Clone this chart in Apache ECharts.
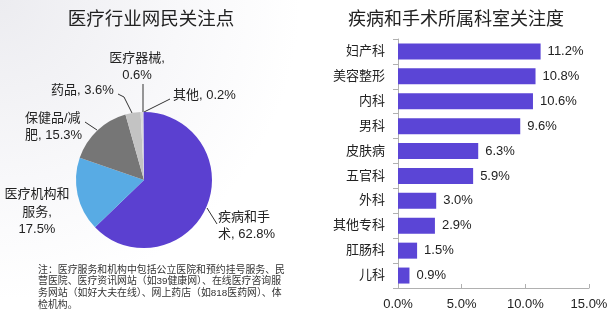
<!DOCTYPE html>
<html><head><meta charset="utf-8">
<script src="https://cdn.jsdelivr.net/npm/echarts@6/dist/echarts.min.js"></script>
<style>html,body{margin:0;padding:0;background:#fff}#c{width:613px;height:328px}</style>
</head><body><div id="c"></div>
<script>
const pieNames = ['疾病和手术', '医疗机构和服务', '保健品/减肥', '药品', '医疗器械', '其他'];
const pieValues = [62.8, 17.5, 15.3, 3.6, 0.6, 0.2];
const pieLabelTexts = ['疾病和手\n术, 62.8%', '医疗机构和\n服务,\n17.5%', '保健品/减\n肥, 15.3%', '药品, 3.6%', '医疗器械,\n0.6%', '其他, 0.2%'];
const barCategories = ['妇产科', '美容整形', '内科', '男科', '皮肤病', '五官科', '外科', '其他专科', '肛肠科', '儿科'];
const barValues = [11.2, 10.8, 10.6, 9.6, 6.3, 5.9, 3.0, 2.9, 1.5, 0.9];
const xTicks = [0, 5, 10, 15];

const FONT = '"Liberation Sans", "Noto Sans CJK SC", sans-serif';
const pieColors = ['#5b40d0', '#58abe4', '#767676', '#c3c3c3', '#dcdcdc', '#9d90e2'];
const note = '注：医疗服务和机构中包括公立医院和预约挂号服务、民\n营医院、医疗资讯网站（如39健康网）、在线医疗咨询服\n务网站（如好大夫在线）、网上药店（如818医药网）、体\n检机构。';

// label placements (styling only)
const labelPlace = [
  {x: 218, y: 226, align: 'left', pts: [[207, 208], [217, 224]]},
  {x: 37, y: 212, align: 'center', pts: null},
  {x: 25, y: 127, align: 'left', pts: [[85, 122], [97, 130]]},
  {x: 51, y: 90, align: 'left', pts: [[118, 94], [124, 97], [132, 113]]},
  {x: 137, y: 67, align: 'center', pts: [[143, 84], [143, 112]]},
  {x: 173, y: 95, align: 'left', pts: [[170, 99], [144, 112]]}
];

const chart = echarts.init(document.getElementById('c'), null, {renderer: 'canvas'});
chart.setOption({
  backgroundColor: '#ffffff',
  animation: false,
  textStyle: {fontFamily: FONT},
  graphic: [
    {type: 'rect', z: -10, shape: {x: 0, y: 0, width: 300, height: 328},
     style: {fill: {type: 'radial', x: 0, y: 0, r: 1, colorStops: [{offset: 0, color: '#ececf0'}, {offset: 0.6, color: '#f8f8fa'}, {offset: 1, color: '#ffffff'}]}}},
    {type: 'text', left: 38, top: 264, style: {text: note, font: '9.9px ' + FONT, fill: '#333', lineHeight: 11.7}}
  ],
  title: [
    {text: '医疗行业网民关注点', left: 146, top: 6, textAlign: 'center',
     textStyle: {fontSize: 18.5, fontWeight: 'normal', color: '#222', fontFamily: FONT}},
    {text: '疾病和手术所属科室关注度', left: 451, top: 6, textAlign: 'center',
     textStyle: {fontSize: 18, fontWeight: 'normal', color: '#222', fontFamily: FONT}}
  ],
  grid: {left: 398, right: 24, top: 39, bottom: 40, containLabel: false},
  xAxis: {
    type: 'value', min: 0, max: 15, interval: 5,
    axisLine: {show: true, lineStyle: {color: '#b0b0b0'}},
    axisTick: {show: true, inside: true, length: 4, lineStyle: {color: '#b0b0b0'}},
    splitLine: {show: false},
    axisLabel: {color: '#222', fontSize: 13, margin: 10, fontFamily: FONT,
      formatter: v => xTicks.includes(v) ? v.toFixed(1) + '%' : ''}
  },
  yAxis: {
    type: 'category', data: barCategories, inverse: true,
    axisLine: {show: true, lineStyle: {color: '#b0b0b0'}},
    axisTick: {show: true, length: 5, lineStyle: {color: '#b0b0b0'}},
    axisLabel: {color: '#222', fontSize: 13, margin: 13, fontFamily: FONT}
  },
  series: [
    {
      type: 'pie', center: [144, 180], radius: 68, startAngle: 90, clockwise: true,
      data: pieNames.map((n, i) => ({name: n, value: pieValues[i], itemStyle: {color: pieColors[i]},
        labelLine: {show: labelPlace[i].pts !== null}})),
      label: {show: true, position: 'outside', color: '#222', fontSize: 13, lineHeight: 17.5, fontFamily: FONT,
        width: 160, overflow: 'none',
        formatter: p => pieLabelTexts[p.dataIndex]},
      labelLine: {show: true, lineStyle: {color: '#333', width: 1}},
      labelLayout: p => {
        const L = labelPlace[p.dataIndex];
        const o = {x: L.x, y: L.y, align: L.align, verticalAlign: 'middle'};
        if (L.pts) o.labelLinePoints = L.pts;
        return o;
      },
      emphasis: {disabled: true}
    },
    {
      type: 'bar', data: barValues, barWidth: 16,
      itemStyle: {color: '#5b45d6'},
      label: {show: true, position: 'right', distance: 7, color: '#222', fontSize: 13, fontFamily: FONT,
        formatter: p => p.value.toFixed(1) + '%'}
    }
  ]
});
</script></body></html>
